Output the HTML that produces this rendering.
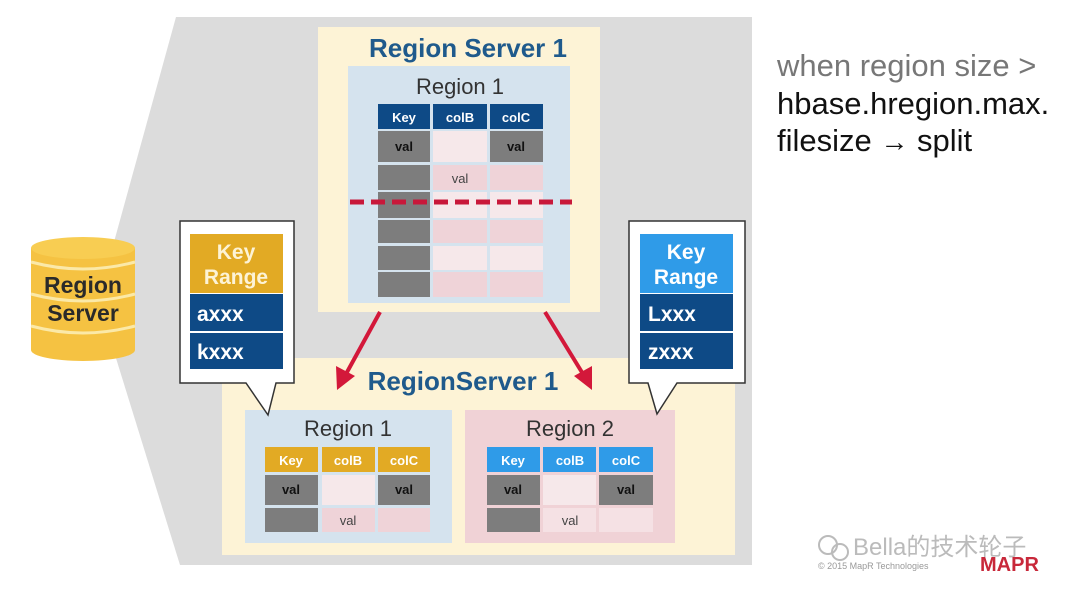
<!DOCTYPE html>
<html><head><meta charset="utf-8"><style>
html,body{margin:0;padding:0;background:#fff;width:1080px;height:593px;overflow:hidden}
svg{display:block}
text{font-family:"Liberation Sans",Arial,sans-serif}
</style></head><body>
<svg width="1080" height="593" viewBox="0 0 1080 593" xmlns="http://www.w3.org/2000/svg">
<polygon points="176,17 752,17 752,565 180,565 98,300" fill="#dcdcdc"/>

<!-- top region server -->
<rect x="318" y="27" width="282" height="285" fill="#fdf3d6"/>
<text x="468" y="57" font-size="26" font-weight="bold" fill="#1f5a8c" text-anchor="middle">Region Server 1</text>
<rect x="348" y="66" width="222" height="237" fill="#d5e3ee"/>
<text x="460" y="94" font-size="22" fill="#333" text-anchor="middle">Region 1</text>
<g font-size="13" font-weight="bold" text-anchor="middle">
<rect x="378" y="104" width="52" height="25" fill="#0e4a86"/><text x="404" y="122" fill="#fff">Key</text>
<rect x="433" y="104" width="54" height="25" fill="#0e4a86"/><text x="460" y="122" fill="#fff">colB</text>
<rect x="490" y="104" width="53" height="25" fill="#0e4a86"/><text x="516" y="122" fill="#fff">colC</text>
</g>
<g>
<rect x="378" y="131" width="52" height="31" fill="#7d7d7d"/>
<rect x="433" y="131" width="54" height="31" fill="#f6e8ea"/>
<rect x="490" y="131" width="53" height="31" fill="#7d7d7d"/>
<rect x="378" y="165" width="52" height="25" fill="#7d7d7d"/>
<rect x="433" y="165" width="54" height="25" fill="#efd3d8"/>
<rect x="490" y="165" width="53" height="25" fill="#efd3d8"/>
<rect x="378" y="192" width="52" height="26" fill="#7d7d7d"/>
<rect x="433" y="192" width="54" height="26" fill="#f6e8ea"/>
<rect x="490" y="192" width="53" height="26" fill="#f6e8ea"/>
<rect x="378" y="220" width="52" height="23" fill="#7d7d7d"/>
<rect x="433" y="220" width="54" height="23" fill="#efd3d8"/>
<rect x="490" y="220" width="53" height="23" fill="#efd3d8"/>
<rect x="378" y="246" width="52" height="24" fill="#7d7d7d"/>
<rect x="433" y="246" width="54" height="24" fill="#f6e8ea"/>
<rect x="490" y="246" width="53" height="24" fill="#f6e8ea"/>
<rect x="378" y="272" width="52" height="25" fill="#7d7d7d"/>
<rect x="433" y="272" width="54" height="25" fill="#efd3d8"/>
<rect x="490" y="272" width="53" height="25" fill="#efd3d8"/>
</g>
<g font-size="13" font-weight="bold" fill="#111" text-anchor="middle">
<text x="404" y="151">val</text><text x="516" y="151">val</text>
</g>
<text x="460" y="183" font-size="13" fill="#444" text-anchor="middle">val</text>
<line x1="350" y1="202" x2="572" y2="202" stroke="#c8183a" stroke-width="5" stroke-dasharray="14,7"/>

<!-- bottom region server -->
<rect x="222" y="358" width="513" height="197" fill="#fdf3d6"/>
<text x="463" y="390" font-size="26" font-weight="bold" fill="#1f5a8c" text-anchor="middle">RegionServer 1</text>
<rect x="245" y="410" width="207" height="133" fill="#d5e3ee"/>
<rect x="465" y="410" width="210" height="133" fill="#f0d2d6"/>
<text x="348" y="436" font-size="22" fill="#333" text-anchor="middle">Region 1</text>
<text x="570" y="436" font-size="22" fill="#333" text-anchor="middle">Region 2</text>
<g font-size="13" font-weight="bold" text-anchor="middle" fill="#fff">
<rect x="265" y="447" width="53" height="25" fill="#e2aa24"/><text x="291" y="465">Key</text>
<rect x="322" y="447" width="53" height="25" fill="#e2aa24"/><text x="348" y="465">colB</text>
<rect x="378" y="447" width="52" height="25" fill="#e2aa24"/><text x="404" y="465">colC</text>
<rect x="487" y="447" width="53" height="25" fill="#2f9be8"/><text x="513" y="465">Key</text>
<rect x="543" y="447" width="53" height="25" fill="#2f9be8"/><text x="570" y="465">colB</text>
<rect x="599" y="447" width="54" height="25" fill="#2f9be8"/><text x="626" y="465">colC</text>
</g>
<g>
<rect x="265" y="475" width="53" height="30" fill="#7d7d7d"/>
<rect x="322" y="475" width="53" height="30" fill="#f6e8ea"/>
<rect x="378" y="475" width="52" height="30" fill="#7d7d7d"/>
<rect x="265" y="508" width="53" height="24" fill="#7d7d7d"/>
<rect x="322" y="508" width="53" height="24" fill="#efd3d8"/>
<rect x="378" y="508" width="52" height="24" fill="#efd3d8"/>
<rect x="487" y="475" width="53" height="30" fill="#7d7d7d"/>
<rect x="543" y="475" width="53" height="30" fill="#f6e8ea"/>
<rect x="599" y="475" width="54" height="30" fill="#7d7d7d"/>
<rect x="487" y="508" width="53" height="24" fill="#7d7d7d"/>
<rect x="543" y="508" width="53" height="24" fill="#f5e1e4"/>
<rect x="599" y="508" width="54" height="24" fill="#f5e1e4"/>
</g>
<g font-size="13" font-weight="bold" fill="#111" text-anchor="middle">
<text x="291" y="494">val</text><text x="404" y="494">val</text>
<text x="513" y="494">val</text><text x="626" y="494">val</text>
</g>
<g font-size="13" fill="#444" text-anchor="middle">
<text x="348" y="525">val</text><text x="570" y="525">val</text>
</g>

<!-- arrows -->
<g stroke="#d3183a" stroke-width="4">
<line x1="380" y1="312" x2="346" y2="374"/>
<line x1="545" y1="312" x2="583" y2="374"/>
</g>
<polygon points="337,390 336,366 355,376" fill="#d3183a"/>
<polygon points="592,390 574,376 592,366" fill="#d3183a"/>

<!-- left callout -->
<path d="M180,221 H294 V383 H276 L268,415 L246,383 H180 Z" fill="#fff" stroke="#333" stroke-width="1.5"/>
<rect x="190" y="234" width="93" height="59" fill="#e2aa24"/>
<rect x="190" y="294" width="93" height="37" fill="#0e4a86"/>
<rect x="190" y="333" width="93" height="36" fill="#0e4a86"/>
<g font-size="21" font-weight="bold" fill="#fdf3d6" text-anchor="middle">
<text x="236" y="259">Key</text><text x="236" y="284">Range</text>
</g>
<g font-size="21" font-weight="bold" fill="#fff">
<text x="197" y="321">axxx</text><text x="197" y="359">kxxx</text>
</g>

<!-- right callout -->
<path d="M629,221 H745 V383 H677 L657,414 L648,383 H629 Z" fill="#fff" stroke="#333" stroke-width="1.5"/>
<rect x="640" y="234" width="93" height="59" fill="#2f9be8"/>
<rect x="640" y="294" width="93" height="37" fill="#0e4a86"/>
<rect x="640" y="333" width="93" height="36" fill="#0e4a86"/>
<g font-size="21" font-weight="bold" fill="#fff" text-anchor="middle">
<text x="686" y="259">Key</text><text x="686" y="284">Range</text>
</g>
<g font-size="21" font-weight="bold" fill="#fff">
<text x="648" y="321">Lxxx</text><text x="648" y="359">zxxx</text>
</g>

<!-- cylinder -->
<g fill="#f5c242">
<rect x="31" y="248" width="104" height="102"/>
<ellipse cx="83" cy="350" rx="52" ry="11"/>
</g>
<ellipse cx="83" cy="248" rx="52" ry="11" fill="#f8cd52"/>
<path d="M31,262 Q83,276 135,262" stroke="#fbe9a8" stroke-width="3" fill="none"/>
<path d="M31,294 Q83,308 135,294" stroke="#fbe9a8" stroke-width="3" fill="none"/>
<path d="M31,326 Q83,340 135,326" stroke="#fbe9a8" stroke-width="3" fill="none"/>
<g font-size="23" font-weight="bold" fill="#2a2a2a" text-anchor="middle">
<text x="83" y="293">Region</text><text x="83" y="321">Server</text>
</g>

<!-- right text -->
<text x="777" y="76" font-size="31" fill="#777">when region size &gt;</text>
<text x="777" y="114" font-size="31" fill="#111">hbase.hregion.max.</text>
<text x="777" y="151" font-size="31" fill="#111">filesize  <tspan font-size="28">→</tspan> split</text>

<!-- watermark -->
<text x="853" y="555" font-size="24" fill="#bbb" font-family="Liberation Sans, Noto Sans CJK SC, sans-serif">Bella的技术轮子</text>
<text x="818" y="569" font-size="9" fill="#999">© 2015 MapR Technologies</text>
<text x="980" y="571" font-size="20" font-weight="bold" fill="#c8283a">MAPR</text>
<circle cx="828" cy="545" r="9" fill="none" stroke="#bbb" stroke-width="2"/>
<circle cx="840" cy="552" r="8" fill="none" stroke="#bbb" stroke-width="2"/>
</svg>
</body></html>
